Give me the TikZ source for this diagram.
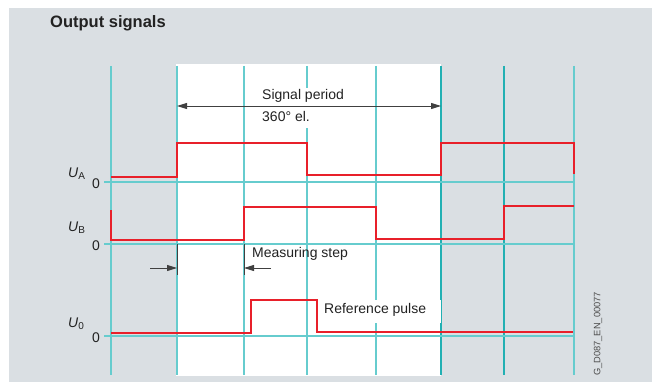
\documentclass[tikz,border=0pt]{standalone}
\usepackage{fontspec}
\setmainfont{Liberation Sans}
\usetikzlibrary{arrows.meta}
\definecolor{bgc}{HTML}{DADFE3}
\definecolor{gridc}{HTML}{66CCCE}
\definecolor{griddark}{HTML}{22B0B3}
\definecolor{sigc}{HTML}{E8202A}
\definecolor{arrc}{HTML}{404040}
\definecolor{txtc}{HTML}{222222}
\tikzset{
  gridline/.style={draw=gridc, line width=1.3pt},
  gridlinedark/.style={draw=griddark, line width=1.2pt},
  signal/.style={draw=sigc, line width=2pt, line join=miter},
  dimarrow/.style={draw=arrc, line width=0.9pt, -{Triangle[length=10pt,width=6pt]}},
  dimtick/.style={draw=arrc, line width=0.9pt},
  lbl/.style={font=\fontsize{14}{16}\selectfont, text=txtc, inner sep=0pt},
  ulbl/.style={font=\fontsize{14}{16}\selectfont, text=txtc, inner sep=0pt},
}
\begin{document}
\begin{tikzpicture}[x=1pt,y=-1pt]
\useasboundingbox (0,0) rectangle (652,382);
\fill[bgc] (9,8) rectangle (652,382);
\fill[white] (176,64) rectangle (441,376);
% vertical grid lines
\foreach \x in {111,177,244,307,376,574} \draw[gridline] (\x,66) -- (\x,375);
\foreach \x in {441,504} \draw[gridlinedark] (\x,66) -- (\x,375);
% zero lines
\draw[gridline] (104,182) -- (574,182);
\draw[gridline] (104,244) -- (574,244);
\draw[gridline] (104,336) -- (574,336);
% label boxes
\fill[white] (260,88) rectangle (347,128);
\fill[white] (318,300) rectangle (441,323);
% signals
\draw[signal] (111,177) -- (177,177) -- (177,143) -- (307,143) -- (307,175) -- (441,175) -- (441,143) -- (574,143) -- (574,174);
\draw[signal] (111,210) -- (111,240) -- (244,240) -- (244,207) -- (376,207) -- (376,239) -- (504,239) -- (504,206) -- (574,206);
\draw[signal] (111,333) -- (251,333) -- (251,300) -- (317,300) -- (317,332) -- (573,332);
% signal period arrow
\coordinate (pl) at (177,106);
\coordinate (pr) at (441,106);
\draw[dimarrow, {Triangle[length=10pt,width=6pt]}-{Triangle[length=10pt,width=6pt]}] (pl) -- (pr);
\node[lbl, anchor=west] (sp) at (262,96) {Signal period};
\node[lbl, anchor=west] (el) at (262,116) {360° el.};
% measuring step
\coordinate (t1a) at (177,244); \coordinate (t1b) at (177,275);
\coordinate (t2a) at (244,244); \coordinate (t2b) at (244,275);
\draw[dimtick] (t1a) -- (t1b);
\draw[dimtick] (t2a) -- (t2b);
\coordinate (m1) at (150,268); \coordinate (m1e) at (177,268);
\coordinate (m2) at (271,268); \coordinate (m2e) at (244,268);
\draw[dimarrow] (m1) -- (m1e);
\draw[dimarrow] (m2) -- (m2e);
\node[lbl, anchor=west] (ms) at (252,254) {Measuring step};
\node[lbl, anchor=west] (rp) at (324,310) {Reference pulse};
% title
\node[font=\fontsize{16.5}{18}\selectfont\bfseries, text=txtc, inner sep=0pt, anchor=west] (title) at (50,23) {Output signals};
% axis labels
\node[ulbl, anchor=base west] (ua) at (68,177) {\textit{U}\raisebox{-2.5pt}{\fontsize{10}{10}\selectfont A}};
\node[ulbl, anchor=base] (ua0) at (96,188) {0};
\node[ulbl, anchor=base west] (ub) at (68,231) {\textit{U}\raisebox{-2.5pt}{\fontsize{10}{10}\selectfont B}};
\node[ulbl, anchor=base] (ub0) at (96,250) {0};
\node[ulbl, anchor=base west] (u0) at (68,327) {\textit{U}\raisebox{-2.5pt}{\fontsize{10}{10}\selectfont 0}};
\node[ulbl, anchor=base] (u00) at (96,342) {0};
% code
\node[font=\fontsize{9.3}{10}\selectfont, text=black!70, inner sep=0pt, rotate=90] (code) at (598,334) {G\_D087\_EN\_00077};
\end{tikzpicture}
\end{document}
